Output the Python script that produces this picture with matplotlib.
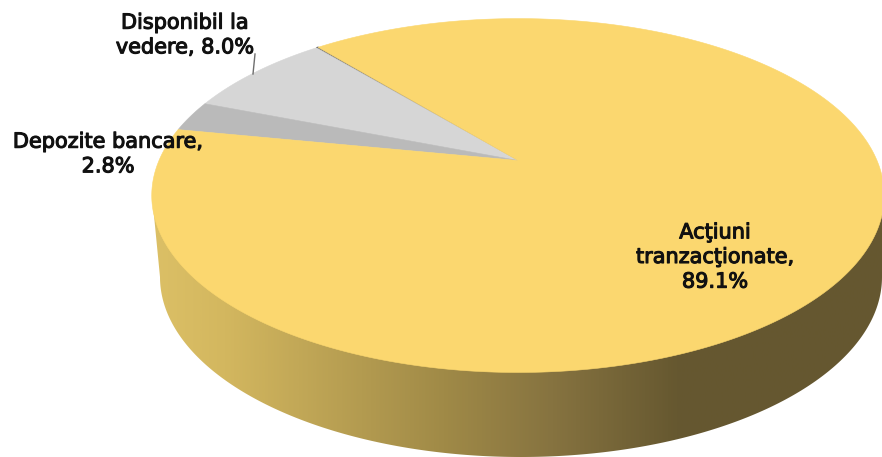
import numpy as np
import matplotlib
matplotlib.use("Agg")
import matplotlib.pyplot as plt
import matplotlib.patheffects as pe
from matplotlib.colors import LinearSegmentedColormap
from matplotlib.patches import Polygon

# Data
categories = ["Altele", "Disponibil la\nvedere, 8.0%", "Depozite bancare,\n2.8%", "Acţiuni\ntranzacţionate,\n89.1%"]
values = [0.1, 8.0, 2.8, 89.1]
slice_colors = ["#6e6e6e", "#d6d6d6", "#bababa", "#fbd76f"]

W, H = 882, 457
fig = plt.figure(figsize=(W / 100, H / 100), dpi=100)
ax = fig.add_axes([0, 0, 1, 1])
ax.set_xlim(0, W)
ax.set_ylim(H, 0)
ax.axis("off")

# Projection of the unit disc (perspective tilt)
CX, CY, a, b, k = 518.0, 160.5, 359.0, 170.0, 0.198
START = 129.9


def project(theta):
    x, y = np.cos(theta), np.sin(theta)
    d = 1 + k * y
    return CX + a * x / d, CY - b * y / d


# Side wall: gradient clipped to the lower outline
LX, LY, LA, LB = 521.0, 277.0, 361.0, 180.0
t = np.linspace(np.pi, 2 * np.pi, 300)
lower = np.column_stack([LX + LA * np.cos(t), LY - LB * np.sin(t)])
wall_xy = np.vstack([[[152, 195]], lower, [[890, 195]]])
wall = Polygon(wall_xy, closed=True, fc="none", ec="none", transform=ax.transData)
ax.add_patch(wall)
cmap = LinearSegmentedColormap.from_list(
    "wall",
    [(0.0, "#dcc066"), (0.10, "#d3b75f"), (0.40, "#a08a47"), (0.55, "#867340"),
     (0.72, "#665830"), (1.0, "#655730")],
)
grad = np.linspace(0, 1, 512).reshape(1, -1)
im = ax.imshow(grad, cmap=cmap, extent=[151, 882, H, 0], aspect="auto", zorder=1, interpolation="bilinear")
im.set_clip_path(wall)
ax.set_xlim(0, W)
ax.set_ylim(H, 0)

# Top face slices
fracs = np.array(values) / np.sum(values)
edges = np.deg2rad(START) + 2 * np.pi * np.concatenate([[0], np.cumsum(fracs)])
for i, color in enumerate(slice_colors):
    n = max(3, int(abs(edges[i + 1] - edges[i]) * 200))
    th = np.linspace(edges[i], edges[i + 1], n)
    px, py = project(th)
    poly = np.vstack([[[CX, CY]], np.column_stack([px, py])])
    ax.add_patch(Polygon(poly, closed=True, fc=color, ec=color, lw=0.4 if i else 1.0, zorder=2))

# Leader line
ax.plot([253, 255], [74, 54], color="#6e6e6e", lw=1.0, zorder=3)

# Labels
font = dict(family="DejaVu Sans", fontsize=15.0, color="#111111",
            ha="center", va="center", linespacing=1.29, zorder=4)
bold = [pe.withStroke(linewidth=0.8, foreground="#111111")]
ax.text(185, 35, categories[1], path_effects=bold, **font)
ax.text(108, 154, categories[2], path_effects=bold, **font)
ax.text(715, 257, categories[3], path_effects=bold, **font)

fig.savefig("out.png", dpi=100)
